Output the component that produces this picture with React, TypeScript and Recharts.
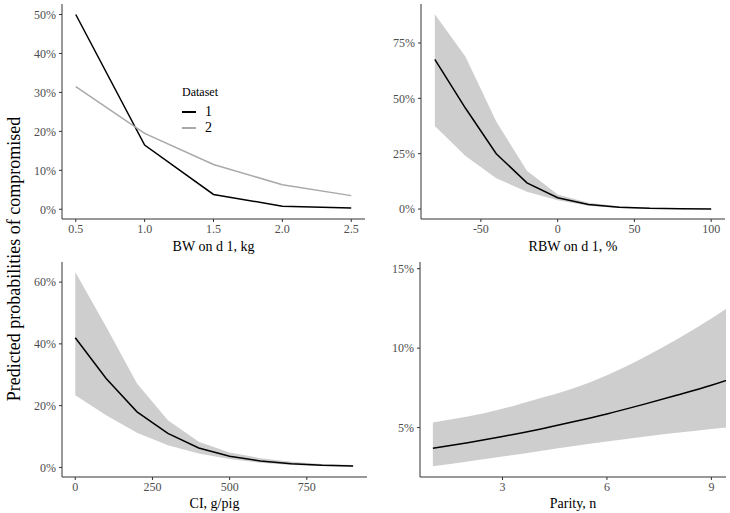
import type { ReactNode } from "react";
import { Area, ComposedChart, Legend, Line, XAxis, YAxis } from "recharts";

const serif = '"Liberation Serif", "Times New Roman", serif';

// BW on d 1 (two datasets)
const bwKg = [0.5, 1.0, 1.5, 2.0, 2.5];
const bwDataset1 = [50, 16.5, 3.8, 0.8, 0.3];
const bwDataset2 = [31.5, 19.5, 11.5, 6.3, 3.5];

// RBW on d 1
const rbwPct = [-80, -60, -40, -20, 0, 20, 40, 60, 80, 100];
const rbwFit = [67.6, 45.5, 25, 11.8, 5.1, 2.1, 0.85, 0.34, 0.14, 0.05];
const rbwLower = [37.5, 24, 13.9, 7.8, 4.0, 1.5, 0.5, 0.15, 0.05, 0.01];
const rbwUpper = [88, 68.8, 39.5, 17.3, 6.6, 2.8, 1.3, 0.6, 0.3, 0.2];

// CI, g/pig
const ciG = [0, 100, 200, 300, 400, 500, 600, 700, 800, 900];
const ciFit = [42, 28.8, 18, 11, 6.3, 3.6, 2.1, 1.2, 0.7, 0.5];
const ciLower = [23.4, 16.9, 11.2, 7.2, 4.5, 2.7, 1.5, 0.8, 0.45, 0.3];
const ciUpper = [63.3, 45.5, 27.2, 15.3, 8.3, 4.8, 3, 1.8, 1.1, 0.8];

// Parity
const parityN = [1, 2, 3, 4, 5, 6, 7, 8, 9, 10];
const parityFit = [3.7, 4.05, 4.44, 4.87, 5.35, 5.86, 6.43, 7.03, 7.66, 8.4];
const parityLower = [2.56, 2.87, 3.18, 3.5, 3.82, 4.12, 4.41, 4.67, 4.91, 5.15];
const parityUpper = [5.32, 5.69, 6.18, 6.8, 7.45, 8.3, 9.35, 10.55, 11.87, 13.3];

const bwData = bwKg.map((x, i) => ({ x, d1: bwDataset1[i], d2: bwDataset2[i] }));
const band = (xs: number[], fit: number[], lo: number[], hi: number[]) =>
  xs.map((x, i) => ({ x, fit: fit[i], lo: lo[i], hi: hi[i] }));
const rbwData = band(rbwPct, rbwFit, rbwLower, rbwUpper);
const ciData = band(ciG, ciFit, ciLower, ciUpper);
const parityData = band(parityN, parityFit, parityLower, parityUpper);

function XTick({ x, y, payload, fmt }: any) {
  return (
    <text x={x} y={y} dy="0.71em" textAnchor="middle" fill="#4d4d4d" fontSize={12} fontFamily={serif}>
      {fmt ? fmt(payload.value) : payload.value}
    </text>
  );
}

function YTick({ x, y, payload }: any) {
  return (
    <text x={x} y={y} dy="0.355em" textAnchor="end" fill="#4d4d4d" fontSize={12} fontFamily={serif}>
      {`${payload.value}%`}
    </text>
  );
}

type PanelProps = {
  left: number;
  top: number;
  width: number;
  height: number;
  yAxisWidth: number;
  xAxisHeight: number;
  marginRight: number;
  data: object[];
  xDomain: [number, number];
  xTicks: number[];
  xFmt?: (v: number) => string;
  yDomain: [number, number];
  yTicks: number[];
  xLabel: string;
  labelOffset: number;
  children: ReactNode;
};

function Panel(p: PanelProps) {
  return (
    <div style={{ position: "absolute", left: p.left, top: p.top }}>
      <ComposedChart
        width={p.width}
        height={p.height}
        data={p.data}
        margin={{ top: 4, right: p.marginRight, left: 0, bottom: 0 }}
      >
        <XAxis
          type="number"
          dataKey="x"
          domain={p.xDomain}
          ticks={p.xTicks}
          allowDataOverflow
          height={p.xAxisHeight}
          stroke="#333333"
          tickSize={3}
          tickMargin={2}
          tick={<XTick fmt={p.xFmt} />}
          label={{
            value: p.xLabel,
            position: "insideBottom",
            offset: p.labelOffset,
            fill: "#000",
            fontSize: 14,
            fontFamily: serif,
          }}
        />
        <YAxis
          type="number"
          domain={p.yDomain}
          ticks={p.yTicks}
          allowDataOverflow
          width={p.yAxisWidth}
          stroke="#333333"
          tickSize={3}
          tickMargin={3}
          tick={<YTick />}
        />
        {p.children}
      </ComposedChart>
    </div>
  );
}

function DatasetLegend({ payload }: { payload?: any[] }) {
  return (
    <div style={{ fontFamily: serif, color: "#000" }}>
      <div style={{ fontSize: 12, height: 16, lineHeight: "16px", marginBottom: 4 }}>Dataset</div>
      {(payload ?? []).map((entry) => (
        <div
          key={entry.value}
          style={{ display: "flex", alignItems: "center", height: 16, fontSize: 14 }}
        >
          <span
            style={{
              display: "inline-block",
              width: 14,
              borderTop: `2px solid ${entry.color}`,
              marginRight: 9,
            }}
          />
          {entry.value}
        </div>
      ))}
    </div>
  );
}

function BandSeries(curve: "linear" | "monotone") {
  return [
    <Area
      key="band"
      type={curve}
      dataKey={(d: any) => [d.lo, d.hi]}
      stroke="none"
      fill="#cecece"
      fillOpacity={1}
      isAnimationActive={false}
      activeDot={false}
    />,
    <Line
      key="fit"
      type={curve}
      dataKey="fit"
      stroke="#000"
      strokeWidth={1.5}
      dot={false}
      isAnimationActive={false}
    />,
  ];
}

export default function App() {
  return (
    <div
      style={{
        position: "absolute",
        left: 0,
        top: 0,
        width: 730,
        height: 513,
        background: "#fff",
        fontFamily: serif,
      }}
    >
      <Panel
        left={0}
        top={0}
        width={370}
        height={260}
        yAxisWidth={62}
        xAxisHeight={41}
        marginRight={5}
        data={bwData}
        xDomain={[0.4, 2.6]}
        xTicks={[0.5, 1.0, 1.5, 2.0, 2.5]}
        xFmt={(v) => v.toFixed(1)}
        yDomain={[-2.5, 52.7]}
        yTicks={[0, 10, 20, 30, 40, 50]}
        xLabel="BW on d 1, kg"
        labelOffset={9}
      >
        <Line
          type="linear"
          dataKey="d1"
          name="1"
          stroke="#000"
          strokeWidth={1.5}
          dot={false}
          isAnimationActive={false}
        />
        <Line
          type="linear"
          dataKey="d2"
          name="2"
          stroke="#a9a9a9"
          strokeWidth={1.5}
          dot={false}
          isAnimationActive={false}
        />
        <Legend
          layout="vertical"
          align="center"
          verticalAlign="middle"
          content={<DatasetLegend />}
          wrapperStyle={{ left: 182, top: 84, width: "auto" }}
        />
      </Panel>

      <Panel
        left={370}
        top={0}
        width={360}
        height={260}
        yAxisWidth={51}
        xAxisHeight={41}
        marginRight={5}
        data={rbwData}
        xDomain={[-89, 109]}
        xTicks={[-50, 0, 50, 100]}
        yDomain={[-4.5, 92.6]}
        yTicks={[0, 25, 50, 75]}
        xLabel="RBW on d 1, %"
        labelOffset={9}
      >
        {BandSeries("linear")}
      </Panel>

      <Panel
        left={0}
        top={258}
        width={372}
        height={255}
        yAxisWidth={62}
        xAxisHeight={36}
        marginRight={5}
        data={ciData}
        xDomain={[-43, 945]}
        xTicks={[0, 250, 500, 750]}
        yDomain={[-3.1, 66.5]}
        yTicks={[0, 20, 40, 60]}
        xLabel="CI, g/pig"
        labelOffset={5}
      >
        {BandSeries("linear")}
      </Panel>

      <Panel
        left={370}
        top={258}
        width={360}
        height={255}
        yAxisWidth={50}
        xAxisHeight={36}
        marginRight={4}
        data={parityData}
        xDomain={[0.63, 9.42]}
        xTicks={[3, 6, 9]}
        yDomain={[1.89, 15.42]}
        yTicks={[5, 10, 15]}
        xLabel="Parity, n"
        labelOffset={5}
      >
        {BandSeries("monotone")}
      </Panel>

      <svg
        width={30}
        height={513}
        style={{ position: "absolute", left: 0, top: 0, overflow: "visible" }}
      >
        <text
          x={14}
          y={259}
          transform="rotate(-90 14 259)"
          textAnchor="middle"
          dominantBaseline="central"
          fontSize={18}
          fontFamily={serif}
          fill="#000"
        >
          Predicted probabilities of compromised
        </text>
      </svg>
    </div>
  );
}
